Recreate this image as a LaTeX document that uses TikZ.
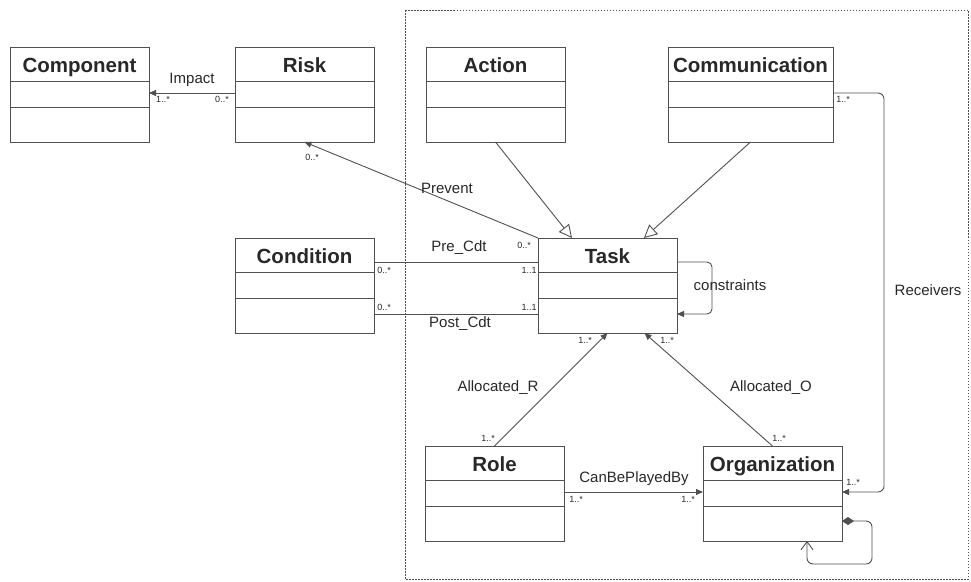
\documentclass[tikz,border=0pt]{standalone}
\usepackage{fontspec}
\setmainfont{Liberation Sans}
\usetikzlibrary{arrows.meta}
\definecolor{umlgray}{RGB}{80,80,80}
\definecolor{umltext}{RGB}{40,40,40}
\tikzset{
  classbox/.style={draw=umlgray, line width=0.9pt, minimum height=95pt,
    minimum width=139pt, inner sep=0pt, outer sep=0pt, anchor=north west},
  classtitle/.style={anchor=base, inner sep=0pt, text=umltext,
    font=\fontsize{20.5}{24}\selectfont\bfseries},
  rolelabel/.style={inner sep=0pt, text=umltext, font=\fontsize{15}{18}\selectfont},
  mult/.style={inner sep=0pt, text=umltext, font=\fontsize{9}{11}\selectfont},
  umlline/.style={draw=umlgray, line width=0.9pt},
  assoc/.style={umlline, -{Triangle[length=7pt,width=6pt]}},
  gen/.style={umlline, -{Triangle[open,length=13pt,width=13pt,fill=white]}},
  compo/.style={umlline, rounded corners=6pt,
    {Diamond[length=12pt,width=8pt]}-{Straight Barb[length=8pt,width=12pt]}},
}
\begin{document}
\begin{tikzpicture}[x=1pt,y=-1pt]
  \useasboundingbox (0,0) rectangle (971,581);
  \draw[umlgray, line width=0.8pt, dash pattern=on 1.5pt off 1.5pt]
    (405,10) rectangle (968,579);
  % classes
  \node[classbox] (comp) at (10,47) {};
  \node[classbox] (risk) at (235,47) {};
  \node[classbox] (action) at (426,47) {};
  \node[classbox, minimum width=165pt] (comm) at (668,47) {};
  \node[classbox] (cond) at (235,238) {};
  \node[classbox] (task) at (538,238) {};
  \node[classbox] (role) at (425,446) {};
  \node[classbox] (org) at (703,446) {};
  \foreach \c in {comp,risk,action,comm,cond,task,role,org}
    \draw[umlline] ([yshift=-34pt]\c.north west) -- ([yshift=-34pt]\c.north east)
      ([yshift=-60pt]\c.north west) -- ([yshift=-60pt]\c.north east);
  \node[classtitle] (comp-t) at ([yshift=-25pt]comp.north) {Component};
  \node[classtitle] (risk-t) at ([yshift=-25pt]risk.north) {Risk};
  \node[classtitle] (action-t) at ([yshift=-25pt]action.north) {Action};
  \node[classtitle] (comm-t) at ([yshift=-25pt]comm.north) {Communication};
  \node[classtitle] (cond-t) at ([yshift=-25pt]cond.north) {Condition};
  \node[classtitle] (task-t) at ([yshift=-25pt]task.north) {Task};
  \node[classtitle] (role-t) at ([yshift=-25pt]role.north) {Role};
  \node[classtitle] (org-t) at ([yshift=-25pt]org.north) {Organization};
  % associations
  \draw[assoc] ([yshift=-46pt]risk.north west) -- ([yshift=-46pt]comp.north east);
  \draw[assoc] (task.north west) -- (risk.south);
  \draw[umlline] ([yshift=-24pt]cond.north east) -- ([yshift=-24pt]task.north west);
  \draw[umlline] ([yshift=-76pt]cond.north east) -- ([yshift=-76pt]task.north west);
  \draw[gen] (action.south) -- ([xshift=-35.5pt]task.north);
  \draw[gen] (comm.south) -- ([xshift=36.5pt]task.north);
  \draw[assoc, rounded corners=5pt] ([yshift=-24pt]task.north east) -- ++(35,0)
    |- ([yshift=-76pt]task.north east);
  \draw[assoc] (role.north) -- (task.south);
  \draw[assoc] (org.north) -- ([xshift=37pt]task.south);
  \draw[assoc] ([yshift=-46pt]role.north east) -- ([yshift=-46pt]org.north west);
  \draw[assoc, rounded corners=6pt] ([yshift=-46pt]comm.north east) -- ++(51,0)
    |- ([yshift=-46pt]org.north east);
  \draw[compo] ([yshift=-75pt]org.north east) -- ++(30,0) -- ++(0,43)
    -| ([xshift=34.5pt]org.south);
  % labels
  \node[rolelabel] (impact) at (192,80) {Impact};
  \node[rolelabel] (prevent) at (447,188) {Prevent};
  \node[rolelabel] (precdt) at (459,248) {Pre\_Cdt};
  \node[rolelabel] (postcdt) at (460,324) {Post\_Cdt};
  \node[rolelabel] (constr) at (730,285) {constraints};
  \node[rolelabel] (recv) at (928,290) {Receivers};
  \node[rolelabel] (allocr) at (498,388) {Allocated\_R};
  \node[rolelabel] (alloco) at (771,388) {Allocated\_O};
  \node[rolelabel] (canbe) at (634,479) {CanBePlayedBy};
  % multiplicities
  \node[mult] (m1) at (163,99) {1..*};
  \node[mult] (m2) at (222,99) {0..*};
  \node[mult] (m3) at (312,157) {0..*};
  \node[mult] (m4) at (524,245) {0..*};
  \node[mult] (m5) at (384,270) {0..*};
  \node[mult] (m6) at (529,270) {1..1};
  \node[mult] (m7) at (384,307) {0..*};
  \node[mult] (m8) at (529,307) {1..1};
  \node[mult] (m9) at (843,99) {1..*};
  \node[mult] (m10) at (585,340) {1..*};
  \node[mult] (m11) at (667,340) {1..*};
  \node[mult] (m12) at (488,438) {1..*};
  \node[mult] (m13) at (779,438) {1..*};
  \node[mult] (m14) at (576,499) {1..*};
  \node[mult] (m15) at (688,499) {1..*};
  \node[mult] (m16) at (853,482) {1..*};
\end{tikzpicture}
\end{document}
